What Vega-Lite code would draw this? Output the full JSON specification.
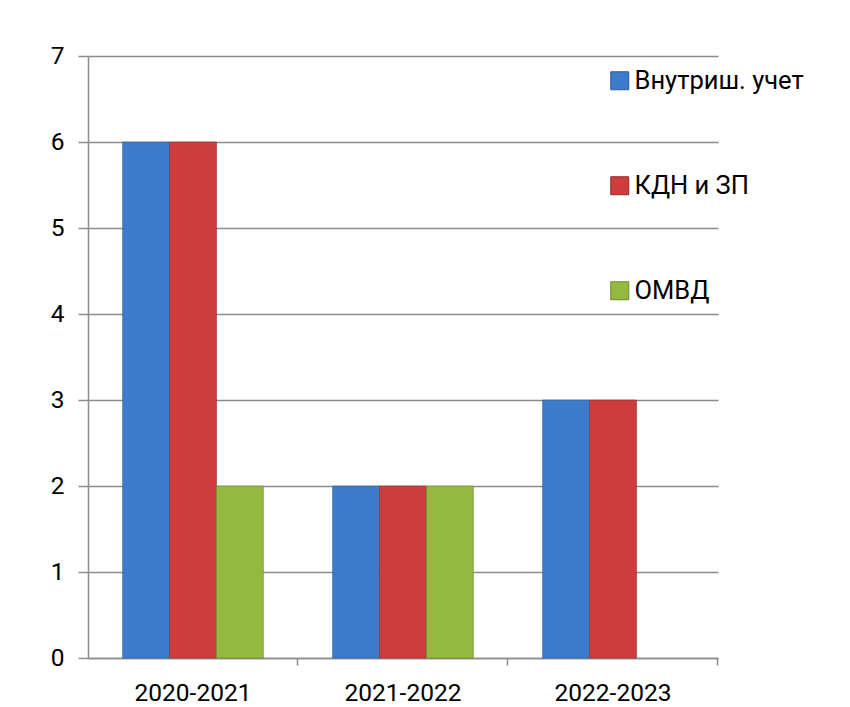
{
  "$schema": "https://vega.github.io/schema/vega-lite/v6.json",
  "width": 630,
  "height": 602,
  "autosize": {"type": "none"},
  "padding": {"left": 88, "top": 56, "right": 132, "bottom": 49},
  "background": "white",
  "data": {
    "values": [
      {"period": "2020-2021", "series": "Внутриш. учет", "value": 6},
      {"period": "2020-2021", "series": "КДН и ЗП", "value": 6},
      {"period": "2020-2021", "series": "ОМВД", "value": 2},
      {"period": "2021-2022", "series": "Внутриш. учет", "value": 2},
      {"period": "2021-2022", "series": "КДН и ЗП", "value": 2},
      {"period": "2021-2022", "series": "ОМВД", "value": 2},
      {"period": "2022-2023", "series": "Внутриш. учет", "value": 3},
      {"period": "2022-2023", "series": "КДН и ЗП", "value": 3}
    ]
  },
  "mark": {"type": "bar", "strokeWidth": 1, "strokeOpacity": 0.6},
  "encoding": {
    "x": {
      "field": "period",
      "type": "nominal",
      "sort": null,
      "title": null,
      "scale": {"paddingInner": 0.33, "paddingOuter": 0.165},
      "axis": {
        "labelAngle": 0,
        "labelFont": "Roboto",
        "labelFontSize": 24.5,
        "labelColor": "#000000",
        "labelPadding": 16,
        "tickSize": 7,
        "tickColor": "#8c8c8c",
        "domainColor": "#8c8c8c",
        "domainWidth": 1.5,
        "tickWidth": 1.5,
        "bandPosition": 1.246,
        "grid": false
      }
    },
    "xOffset": {
      "field": "series",
      "type": "nominal",
      "scale": {"domain": ["Внутриш. учет", "КДН и ЗП", "ОМВД"], "paddingInner": 0, "paddingOuter": 0}
    },
    "y": {
      "field": "value",
      "type": "quantitative",
      "title": null,
      "scale": {"domain": [0, 7], "nice": false},
      "axis": {
        "values": [0, 1, 2, 3, 4, 5, 6, 7],
        "labelFont": "Roboto",
        "labelFontSize": 24.5,
        "labelColor": "#000000",
        "labelPadding": 14,
        "tickSize": 10,
        "tickColor": "#8c8c8c",
        "tickWidth": 1.5,
        "domainColor": "#8c8c8c",
        "domainWidth": 1.5,
        "grid": true,
        "gridColor": "#8c8c8c",
        "gridWidth": 1.5
      }
    },
    "color": {
      "field": "series",
      "type": "nominal",
      "scale": {
        "domain": ["Внутриш. учет", "КДН и ЗП", "ОМВД"],
        "range": ["#3d7ccb", "#cd3d3d", "#93b93f"]
      },
      "legend": {
        "title": null,
        "orient": "none",
        "legendX": 519,
        "legendY": 12,
        "padding": 0,
        "symbolType": "square",
        "symbolSize": 324,
        "symbolStrokeWidth": 1,
        "labelFont": "Roboto",
        "labelFontSize": 25.5,
        "labelColor": "#000000",
        "labelOffset": 2,
        "labelLimit": 400,
        "rowPadding": 78
      }
    },
    "stroke": {
      "field": "series",
      "type": "nominal",
      "scale": {
        "domain": ["Внутриш. учет", "КДН и ЗП", "ОМВД"],
        "range": ["#2a5a98", "#8f2a2a", "#6a8a2a"]
      },
      "legend": null
    }
  },
  "config": {
    "view": {"stroke": null}
  }
}
